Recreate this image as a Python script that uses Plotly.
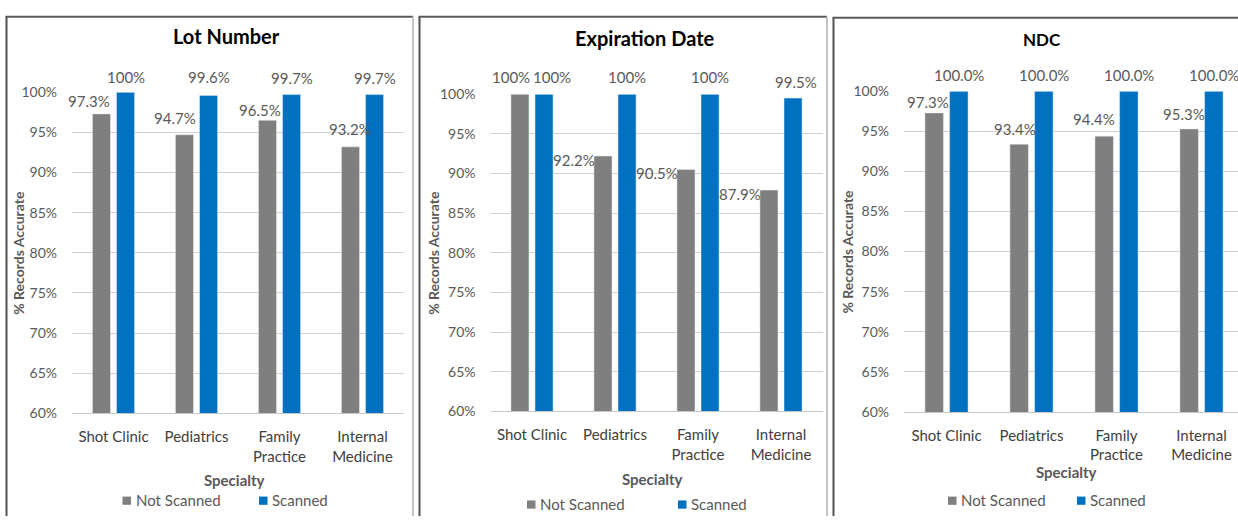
import plotly.graph_objects as go

W, H = 1238, 522

categories = ["Shot Clinic", "Pediatrics", "Family Practice", "Internal Medicine"]
tick_labels = ["Shot Clinic", "Pediatrics", "Family<br>Practice", "Internal<br>Medicine"]
series_names = ["Not Scanned", "Scanned"]

lot_not_scanned = [97.3, 94.7, 96.5, 93.2]
lot_scanned = [100, 99.6, 99.7, 99.7]
exp_not_scanned = [100, 92.2, 90.5, 87.9]
exp_scanned = [100, 100, 100, 99.5]
ndc_not_scanned = [97.3, 93.4, 94.4, 95.3]
ndc_scanned = [100.0, 100.0, 100.0, 100.0]

titles = ["Lot Number", "Expiration Date", "NDC"]
y_title = "% Records Accurate"
x_title = "Specialty"

GRAY = "#7f7f7f"
BLUE = "#0070c0"
FONT = "Lato"


def fx(px):
    return px / W


def fy(py):
    return 1 - py / H


panels = [
    dict(x0=72, x1=404, y0=86, y1=418, xr=[-0.5, 3.5], fmt="g", title_y=28, title_size=20,
         frame_l=6.5, frame_t=8, frame_r=413,
         gdx=[-12, -9, -7, 0], gdy=[13, 17, 10, 18], bdx=[0, 0, 0, 0], bdy=[15, 18, 17, 17],
         leg_y=508, leg_g=122.5, leg_b=259, xt_y=487, yt_x=19),
    dict(x0=490.5, x1=822.5, y0=88, y1=416, xr=[-0.5, 3.5], fmt="g", title_y=30, title_size=20,
         frame_l=419.5, frame_t=8, frame_r=827,
         gdx=[-9, -29, -29, -29], gdy=[17, -4, -4, -4], bdx=[8, 0, 0, 3], bdy=[17, 17, 17, 16],
         leg_y=512, leg_g=527, leg_b=678, xt_y=486, yt_x=434),
    dict(x0=904, x1=1238, y0=85, y1=416.5, xr=[-0.5, 3.5 - 6 / 85], fmt=".1f", title_y=32, title_size=17,
         frame_l=833.5, frame_t=9, frame_r=None,
         gdx=[-6, -4, -10, -5], gdy=[11, 15, 17, 15], bdx=[0, 0, 0, 0], bdy=[16, 16, 16, 16],
         leg_y=508, leg_g=948, leg_b=1077, xt_y=479, yt_x=848),
]

data = [
    (lot_not_scanned, lot_scanned),
    (exp_not_scanned, exp_scanned),
    (ndc_not_scanned, ndc_scanned),
]

fig = go.Figure()
annotations = []
shapes = []
layout_axes = {}

for i, (p, (ns, sc)) in enumerate(zip(panels, data)):
    n = "" if i == 0 else str(i + 1)
    xa, ya = "x" + n, "y" + n
    fig.add_trace(go.Bar(x=categories, y=ns, name=series_names[0], marker_color=GRAY,
                         xaxis=xa, yaxis=ya, showlegend=False))
    fig.add_trace(go.Bar(x=categories, y=sc, name=series_names[1], marker_color=BLUE,
                         xaxis=xa, yaxis=ya, showlegend=False))

    layout_axes["xaxis" + n] = dict(
        domain=[fx(p["x0"]), fx(p["x1"])], anchor=ya, type="category",
        categoryorder="array", categoryarray=categories,
        tickvals=categories, ticktext=tick_labels, range=p["xr"],
        showgrid=False, showline=True, linecolor="#c8c8c8", linewidth=1,
        ticks="", ticklabelstandoff=10,
        tickfont=dict(family=FONT, size=15, color="#404040"), fixedrange=True,
    )
    layout_axes["yaxis" + n] = dict(
        domain=[fy(p["y1"]), fy(p["y0"])], anchor=xa, range=[60, 100], dtick=5,
        ticksuffix="%", showgrid=True, gridcolor="#d0d0d0", gridwidth=1,
        zeroline=False, showline=False, ticks="", ticklabelstandoff=14,
        tickfont=dict(family=FONT, size=14, color="#595959"), fixedrange=True,
    )

    cw = (p["x1"] - p["x0"]) / (p["xr"][1] - p["xr"][0])
    off = cw * 0.58 / 4
    for j, c in enumerate(categories):
        for vals, sgn, dxs, dys in ((ns, -1, p["gdx"], p["gdy"]), (sc, 1, p["bdx"], p["bdy"])):
            v = vals[j]
            txt = (f"{v:g}%" if p["fmt"] == "g" else f"{v:.1f}%")
            annotations.append(dict(
                x=c, y=v, xref=xa, yref=ya, text=txt, showarrow=False,
                xanchor="center", yanchor="middle",
                xshift=sgn * off + dxs[j], yshift=dys[j],
                font=dict(family=FONT, size=15, color="#595959"),
            ))

    annotations.append(dict(x=fx((p["x0"] + p["x1"]) / 2 - 12 if i < 2 else 1042), y=fy(p["title_y"]),
                            xref="paper", yref="paper", text=f"<b>{titles[i]}</b>", showarrow=False,
                            xanchor="center", yanchor="middle",
                            font=dict(family=FONT, size=p["title_size"], color="#000000")))
    annotations.append(dict(x=fx((p["x0"] + min(p["x1"], p["x0"] + 332)) / 2 - 4), y=fy(p["xt_y"]),
                            xref="paper", yref="paper", text=f"<b>{x_title}</b>", showarrow=False,
                            xanchor="center", yanchor="middle",
                            font=dict(family=FONT, size=15, color="#595959")))
    annotations.append(dict(x=fx(p["yt_x"]), y=fy((p["y0"] + p["y1"]) / 2), xref="paper", yref="paper",
                            text=f"<b>{y_title}</b>", showarrow=False, textangle=-90,
                            xanchor="center", yanchor="middle",
                            font=dict(family=FONT, size=14, color="#595959")))
    for lx, col, name in ((p["leg_g"], GRAY, series_names[0]), (p["leg_b"], BLUE, series_names[1])):
        shapes.append(dict(type="rect", xref="paper", yref="paper",
                           x0=fx(lx), x1=fx(lx + 8.5), y0=fy(p["leg_y"] + 4.5), y1=fy(p["leg_y"] - 4),
                           fillcolor=col, line=dict(width=0)))
        annotations.append(dict(x=fx(lx + 11), y=fy(p["leg_y"]), xref="paper", yref="paper",
                                text=name, showarrow=False, xanchor="left", yanchor="middle",
                                font=dict(family=FONT, size=15, color="#595959")))
    shapes.append(dict(type="line", xref="paper", yref="paper", x0=fx(p["frame_l"]), x1=fx(p["frame_l"]),
                       y0=fy(p["frame_t"]), y1=fy(H + 2), line=dict(color="#505050", width=2)))
    right = p["frame_r"] if p["frame_r"] is not None else W + 2
    shapes.append(dict(type="line", xref="paper", yref="paper", x0=fx(p["frame_l"] - 1), x1=fx(right),
                       y0=fy(p["frame_t"]), y1=fy(p["frame_t"]), line=dict(color="#5a5a5a", width=2)))
    if p["frame_r"] is not None:
        shapes.append(dict(type="line", xref="paper", yref="paper", x0=fx(right), x1=fx(right),
                           y0=fy(p["frame_t"]), y1=fy(H + 2), line=dict(color="#c4c4c4", width=2)))

fig.update_layout(
    width=W, height=H, margin=dict(l=0, r=0, t=0, b=0),
    paper_bgcolor="white", plot_bgcolor="white",
    barmode="group", bargap=0.42, bargroupgap=0.25,
    annotations=annotations, shapes=shapes, showlegend=False,
    **layout_axes,
)

fig.write_html("out.html", config={"displayModeBar": False})
